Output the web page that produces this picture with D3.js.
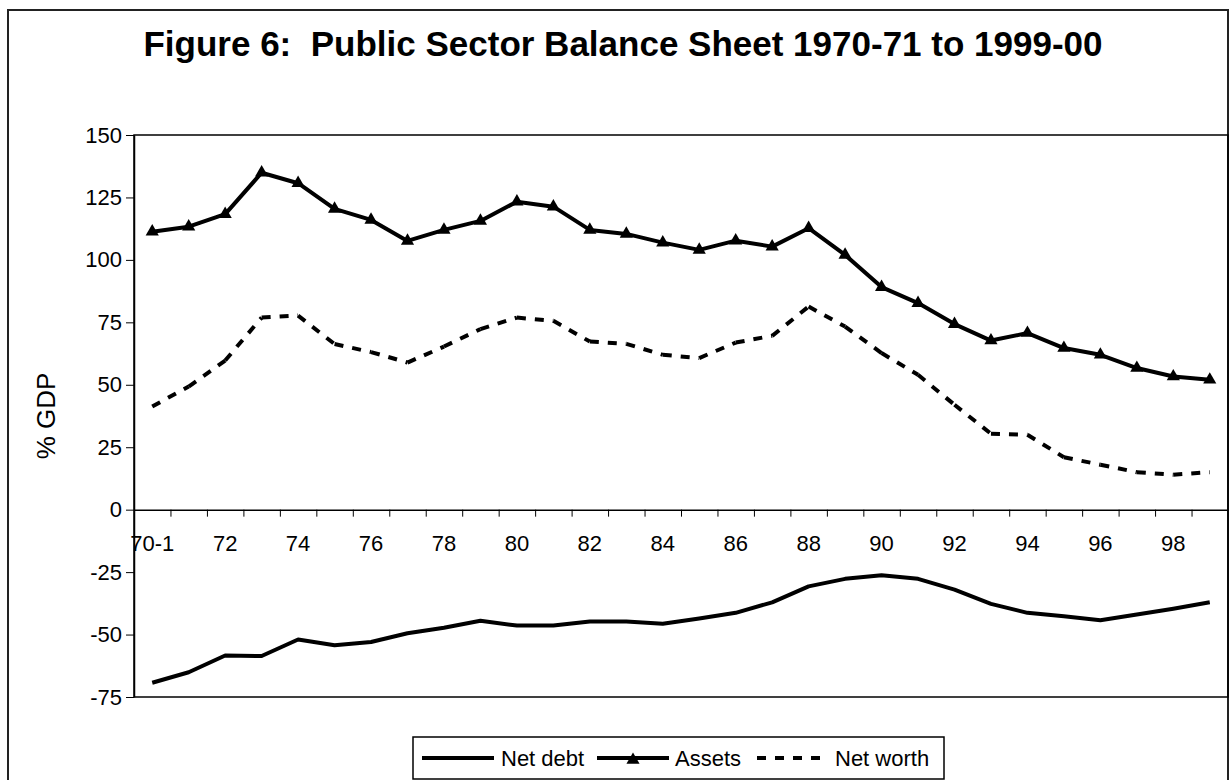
<!DOCTYPE html>
<html>
<head>
<meta charset="utf-8">
<script src="https://cdn.jsdelivr.net/npm/d3@7"></script>
<style>
  body { margin: 0; background: #fff; }
  svg { display: block; font-family: "Liberation Sans", Arial, sans-serif; }
</style>
</head>
<body>
<svg id="chart"></svg>
<script>
const width = 1231;
const height = 780;

const categories = ["70-1","71","72","73","74","75","76","77","78","79",
  "80","81","82","83","84","85","86","87","88","89",
  "90","91","92","93","94","95","96","97","98","99"];
const labelled = categories.filter((d, i) => i % 2 === 0);

const netDebt = [-69.3, -65.1, -58.4, -58.6, -52, -54.3, -53, -49.5, -47.3, -44.5,
  -46.4, -46.4, -44.8, -44.8, -45.7, -43.6, -41.3, -37.1, -30.7, -27.7,
  -26.3, -27.7, -32, -37.7, -41.3, -42.7, -44.3, -42, -39.7, -37.1];
const assets = [111.3, 113.3, 118.3, 134.9, 130.7, 120.4, 116, 107.6, 112, 115.6,
  123.3, 121.3, 112, 110.4, 106.9, 104, 107.7, 105.3, 112.7, 102,
  89.1, 82.7, 74.3, 67.7, 70.7, 64.7, 62, 56.7, 53.3, 52];
const netWorth = [41.3, 49.3, 59.7, 76.9, 77.7, 66.3, 63.1, 58.9, 65.3, 72.3,
  76.9, 75.6, 67.3, 66.4, 62, 60.7, 66.9, 69.6, 81.3, 73.3,
  62.7, 54, 42, 30.4, 30, 21, 18, 15, 14, 15];
const yTicks = [-75, -50, -25, 0, 25, 50, 75, 100, 125, 150];

const plot = { left: 134, right: 1228, top: 135, bottom: 697 };

const svg = d3.select("#chart")
  .attr("width", width)
  .attr("height", height);

// outer chart frame
svg.append("rect")
  .attr("x", 8).attr("y", 10)
  .attr("width", 1220).attr("height", 820)
  .attr("fill", "none")
  .attr("stroke", "#222")
  .attr("stroke-width", 2);

svg.append("text")
  .attr("x", 623).attr("y", 56)
  .attr("text-anchor", "middle")
  .style("white-space", "pre")
  .attr("font-size", 35)
  .attr("font-weight", "bold")
  .text("Figure 6:  Public Sector Balance Sheet 1970-71 to 1999-00");

const x = d3.scaleBand()
  .domain(categories)
  .range([plot.left, plot.right]);

const xEdge = d3.scaleLinear()
  .domain([0, categories.length])
  .range([plot.left, plot.right]);

const y = d3.scaleLinear()
  .domain([-75, 150])
  .range([plot.bottom, plot.top]);

// plot box
svg.append("rect")
  .attr("x", plot.left).attr("y", plot.top)
  .attr("width", plot.right - plot.left)
  .attr("height", plot.bottom - plot.top)
  .attr("fill", "none")
  .attr("stroke", "#000")
  .attr("stroke-width", 1.5);

const yAxis = svg.append("g")
  .attr("transform", `translate(${plot.left},0)`)
  .call(d3.axisLeft(y).tickValues(yTicks).tickSize(8).tickPadding(4).tickSizeOuter(0)
    .tickFormat(d => String(d)));
yAxis.select(".domain").attr("stroke-width", 1.5);
yAxis.selectAll("text").attr("font-size", 22).attr("fill", "#000").attr("font-family", null);

// x axis line at zero, ticks between categories
const xAxis = svg.append("g")
  .attr("transform", `translate(0,${y(0)})`)
  .call(d3.axisBottom(xEdge).tickValues(d3.range(1, categories.length)).tickSize(7).tickFormat("").tickSizeOuter(0));
xAxis.select(".domain").attr("stroke-width", 1.5);

const xLabels = svg.append("g")
  .attr("transform", `translate(0,${y(0)})`)
  .call(d3.axisBottom(x).tickValues(labelled).tickSize(0).tickPadding(26));
xLabels.select(".domain").remove();
xLabels.selectAll("text").attr("font-size", 22).attr("fill", "#000").attr("font-family", null);

svg.append("text")
  .attr("transform", `translate(55,${(plot.top + plot.bottom) / 2}) rotate(-90)`)
  .attr("text-anchor", "middle")
  .attr("font-size", 26)
  .text("% GDP");

const cx = i => x(categories[i]) + x.bandwidth() / 2;

const line = d3.line().x((d, i) => cx(i)).y(d => y(d));

svg.append("path")
  .datum(netDebt)
  .attr("fill", "none")
  .attr("stroke", "#000")
  .attr("stroke-width", 4)
  .attr("stroke-linejoin", "round")
  .attr("d", line);

// dashed series: dashes restart on every segment, like the original
const pairs = d3.pairs(netWorth.map((v, i) => [cx(i), y(v)]));
svg.selectAll(".nw")
  .data(pairs)
  .enter()
  .append("line")
  .attr("class", "nw")
  .attr("x1", d => d[0][0]).attr("y1", d => d[0][1])
  .attr("x2", d => d[1][0]).attr("y2", d => d[1][1])
  .attr("stroke", "#000")
  .attr("stroke-width", 4)
  .attr("stroke-dasharray", "9,9");

svg.append("path")
  .datum(assets)
  .attr("fill", "none")
  .attr("stroke", "#000")
  .attr("stroke-width", 4)
  .attr("stroke-linejoin", "round")
  .attr("d", line);

const tri = d3.symbol().type(d3.symbolTriangle).size(75);
svg.selectAll(".tri")
  .data(assets)
  .enter()
  .append("path")
  .attr("class", "tri")
  .attr("d", tri)
  .attr("transform", (d, i) => `translate(${cx(i)},${y(d)})`)
  .attr("fill", "#000");

// legend
const legend = svg.append("g").attr("transform", "translate(413,737)");
legend.append("rect")
  .attr("width", 531).attr("height", 42)
  .attr("fill", "#fff")
  .attr("stroke", "#000")
  .attr("stroke-width", 1.5);

const items = [
  { name: "Net debt", x0: 9, dash: null, marker: false, tx: 88 },
  { name: "Assets", x0: 184, dash: null, marker: true, tx: 262 },
  { name: "Net worth", x0: 344, dash: "9,9", marker: false, tx: 422 }
];
items.forEach(it => {
  legend.append("line")
    .attr("x1", it.x0).attr("x2", it.x0 + 72)
    .attr("y1", 21).attr("y2", 21)
    .attr("stroke", "#000")
    .attr("stroke-width", 4)
    .attr("stroke-dasharray", it.dash);
  if (it.marker) {
    legend.append("path")
      .attr("d", tri)
      .attr("transform", `translate(${it.x0 + 36},23)`);
  }
  legend.append("text")
    .attr("x", it.tx).attr("y", 29)
    .attr("font-size", 22)
    .text(it.name);
});
</script>
</body>
</html>
